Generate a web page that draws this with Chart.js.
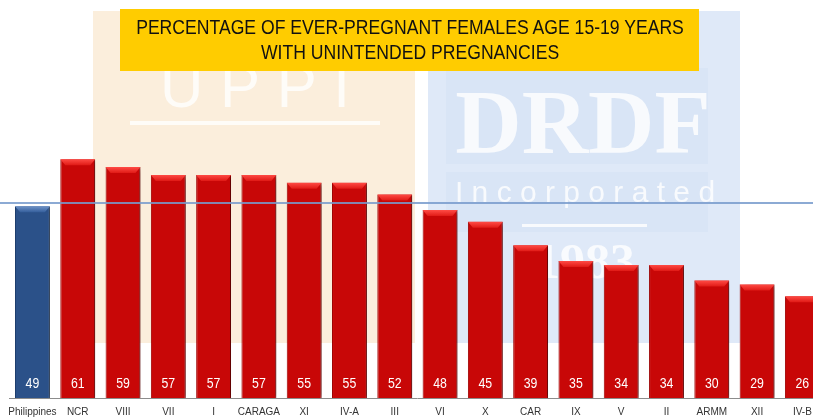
<!DOCTYPE html>
<html>
<head>
<meta charset="utf-8">
<script src="https://cdn.jsdelivr.net/npm/chart.js@4"></script>
<style>
  body { margin: 0; overflow: hidden; background: #fff; }
  #wrap { position: relative; width: 813px; height: 417px; overflow: hidden; }
  #chart { position: absolute; left: 0; top: 0; }
  #title {
    position: absolute; left: 120px; top: 9px; width: 579px; height: 62px;
    background: #ffcc00; color: #111;
    font-family: "Liberation Sans", Arial, sans-serif;
    font-size: 20px; line-height: 25px; padding-top: 6px; box-sizing: border-box;
  }
  #title span {
    display: block; width: 800px; margin-left: -110.5px; text-align: center;
    white-space: nowrap; transform: scaleX(0.88); transform-origin: center;
  }
</style>
</head>
<body>
<div id="wrap">
  <canvas id="chart" width="834" height="417"></canvas>
  <div id="title"><span>PERCENTAGE OF EVER-PREGNANT FEMALES AGE 15-19 YEARS</span><span>WITH UNINTENDED PREGNANCIES</span></div>
</div>
<script>
const categories = ['Philippines','NCR','VIII','VII','I','CARAGA','XI','IV-A','III','VI','X','CAR','IX','V','II','ARMM','XII','IV-B'];
const percentages = [49,61,59,57,57,57,55,55,52,48,45,39,35,34,34,30,29,26];
const referenceLevel = 49.8;
const yTicks = [0, 70];

const sans = '"Liberation Sans", Arial, sans-serif';

// faint logo watermarks behind the bars
const watermark = {
    id:'watermark',
    beforeDraw(chart){
        const ctx = chart.ctx;
        ctx.save();
        ctx.fillStyle = '#fbeedc';
        ctx.fillRect(93, 11, 322, 332);
        ctx.fillStyle = '#dfe9f8';
        ctx.fillRect(428, 11, 312, 332);
        ctx.fillStyle = '#d9e5f6';
        ctx.fillRect(446, 68, 262, 96);
        ctx.fillRect(446, 172, 262, 60);
        ctx.fillStyle = 'rgba(255,255,255,0.8)';
        ctx.textAlign = 'center';
        ctx.textBaseline = 'alphabetic';
        ctx.font = '60px ' + sans;
        ctx.fillText('U P P I', 255, 107);
        ctx.fillRect(130, 121, 250, 4);
        ctx.font = 'bold 92px "Liberation Serif", serif';
        ctx.fillText('DRDF', 583, 153);
        ctx.font = '30px ' + sans;
        ctx.fillText('I n c o r p o r a t e d', 585, 202);
        ctx.fillRect(522, 224, 125, 3);
        ctx.font = 'bold 50px "Liberation Serif", serif';
        ctx.fillText('1983', 585, 278);
        ctx.restore();
    }
};

// drop shadow and bevelled top of the bars
const shadow = {
    id:'shadow',
    beforeDatasetDraw(chart){
        const ctx = chart.ctx;
        ctx.save();
        ctx.shadowColor = 'rgba(0,0,0,0.45)';
        ctx.shadowBlur = 5;
        ctx.shadowOffsetX = 4;
        ctx.shadowOffsetY = 1;
    },
    afterDatasetDraw(chart){
        chart.ctx.restore();
        const ctx = chart.ctx;
        const meta = chart.getDatasetMeta(0);
        ctx.save();
        meta.data.forEach((bar, i) => {
            const l = bar.x - bar.width / 2, r = bar.x + bar.width / 2, t = bar.y;
            const g = ctx.createLinearGradient(0, t, 0, t + 6);
            if (i === 0) { g.addColorStop(0, '#6f93c8'); g.addColorStop(1, '#355f9c'); }
            else { g.addColorStop(0, '#ff4b45'); g.addColorStop(1, '#e01a16'); }
            ctx.fillStyle = g;
            ctx.beginPath();
            ctx.moveTo(l, t); ctx.lineTo(r, t);
            ctx.lineTo(r - 5, t + 6); ctx.lineTo(l + 5, t + 6);
            ctx.closePath();
            ctx.fill();
        });
        ctx.restore();
    }
};

const valueLabels = {
    id:'valueLabels',
    afterDatasetsDraw(chart){
        const ctx = chart.ctx;
        const meta = chart.getDatasetMeta(0);
        const base = chart.scales.y.getPixelForValue(0);
        ctx.save();
        ctx.fillStyle = '#ffffff';
        ctx.font = '15px ' + sans;
        ctx.textAlign = 'center';
        ctx.textBaseline = 'middle';
        meta.data.forEach((bar, i) => {
            ctx.save();
            ctx.translate(bar.x, base - 14);
            ctx.scale(0.82, 1);
            ctx.fillText(String(percentages[i]), 0, 0);
            ctx.restore();
        });
        // reference line at the national level
        const y = chart.scales.y.getPixelForValue(referenceLevel);
        ctx.strokeStyle = 'rgba(120,155,205,0.85)';
        ctx.lineWidth = 2;
        ctx.beginPath();
        ctx.moveTo(0, y); ctx.lineTo(chart.width, y);
        ctx.stroke();
        ctx.restore();
    }
};

const ctx = document.getElementById('chart').getContext('2d');
new Chart(ctx, {
    type:'bar',
    data:{
        labels:categories,
        datasets:[{
            data:percentages,
            backgroundColor:percentages.map((v, i) => i === 0 ? '#2b5189' : '#c80707'),
            borderColor:percentages.map((v, i) => i === 0 ? '#1f3f6e' : '#a00000'),
            borderWidth:{left:1, right:1, top:0, bottom:0},
            barPercentage:0.77,
            categoryPercentage:1
        }]
    },
    options:{
        responsive:false,
        animation:false,
        devicePixelRatio:1,
        layout:{ padding:{ left:9, right:9, top:124, bottom:0 } },
        scales:{
            x:{
                grid:{ display:false, drawTicks:false },
                border:{ display:true, color:'#8c8c8c', width:1 },
                afterFit(scale){ scale.height = 19; },
                ticks:{
                    color:'#333333',
                    padding:8,
                    autoSkip:false,
                    maxRotation:0,
                    font:{ family:sans, size:10 }
                }
            },
            y:{
                display:false,
                min:yTicks[0],
                max:yTicks[1]
            }
        },
        plugins:{
            legend:{ display:false },
            tooltip:{ enabled:false }
        }
    },
    plugins:[watermark, shadow, valueLabels]
});
</script>
</body>
</html>
